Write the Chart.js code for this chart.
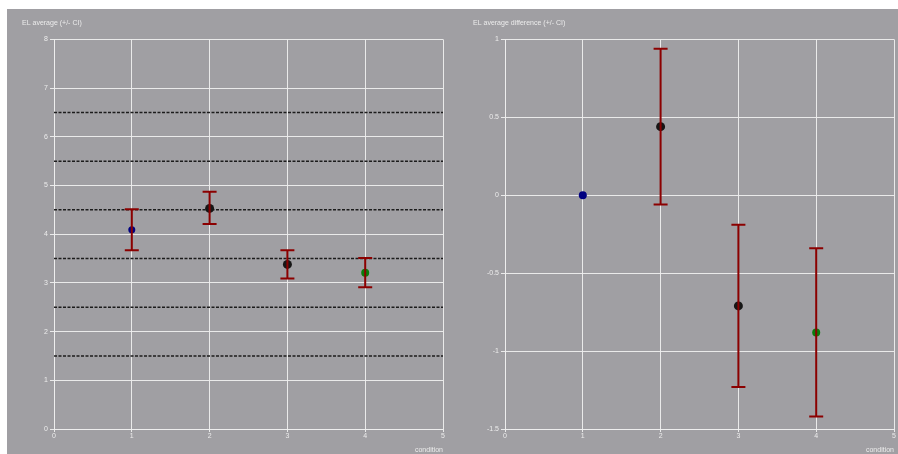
<html lang="en">
<head>
    <meta charset="UTF-8">
    <title>EL average</title>
    <script src="https://cdn.jsdelivr.net/npm/chart.js"></script>
    <style>
        body { margin: 0; background: #ffffff; overflow: hidden; }
        /* grey backdrop behind both panels */
        #backdrop {
            position: absolute;
            left: 7px; top: 9px;
            width: 891px; height: 445px;
            background: rgb(160, 159, 163);
        }
        canvas { position: absolute; top: 9px; }
        #avgChart { left: 7px; }
        #diffChart { left: 452px; }
    </style>
</head>
<body>
    <div id="backdrop"></div>
    <canvas id="avgChart" width="445" height="445"></canvas>
    <canvas id="diffChart" width="446" height="445"></canvas>

    <script>
        // conditions on the x axis
        const conditions = [1, 2, 3, 4];

        // EL average with confidence interval bounds
        const elMean = [4.09, 4.53, 3.38, 3.21];
        const elLow  = [3.67, 4.21, 3.09, 2.91];
        const elHigh = [4.51, 4.87, 3.67, 3.51];

        // EL average difference (vs condition 1) with CI bounds
        const diffMean = [0, 0.44, -0.71, -0.88];
        const diffLow  = [0, -0.06, -1.23, -1.42];
        const diffHigh = [0, 0.94, -0.19, -0.34];

        // dotted reference levels on the average panel
        const refLevels = [1.5, 2.5, 3.5, 4.5, 5.5, 6.5];

        const xTicks = [0, 1, 2, 3, 4, 5];

        const pointColors = ['#000080', '#161616', '#161616', '#0a7d0a'];
        const barColor = '#8b0000';
        const gridColor = 'rgba(238, 238, 238, 0.95)';
        const textColor = '#ececec';
        const font = { family: 'Liberation Sans, Arial, sans-serif', size: 7 };

        // one line dataset per condition: vertical stroke with flat caps at both ends
        function errorBars(low, high) {
            const sets = [];
            conditions.forEach((c, i) => {
                if (low[i] === high[i]) return;
                sets.push({
                    type: 'line',
                    data: [{ x: c, y: low[i] }, { x: c, y: high[i] }],
                    borderColor: barColor,
                    borderWidth: 2,
                    showLine: true,
                    pointStyle: 'line',
                    pointRadius: 7,
                    pointBorderColor: barColor,
                    pointBorderWidth: 2,
                    order: 0
                });
            });
            return sets;
        }

        function meanPoints(mean, radii) {
            return {
                type: 'scatter',
                data: conditions.map((c, i) => ({ x: c, y: mean[i] })),
                pointBackgroundColor: pointColors,
                pointBorderWidth: 0,
                pointRadius: radii,
                order: 1
            };
        }

        function makeChart(id, cfg) {
            const ctx = document.getElementById(id).getContext('2d');
            return new Chart(ctx, {
                type: 'scatter',
                data: { datasets: cfg.datasets },
                options: {
                    responsive: false,
                    animation: false,
                    layout: {
                        autoPadding: false,
                        padding: { left: cfg.padLeft, right: cfg.padRight, top: 0, bottom: 0 }
                    },
                    plugins: {
                        legend: { display: false },
                        tooltip: { enabled: false },
                        title: {
                            display: true,
                            text: cfg.title,
                            align: 'start',
                            color: textColor,
                            font: Object.assign({ weight: 'normal' }, font),
                            padding: { top: 10, bottom: 12 }
                        }
                    },
                    scales: {
                        x: {
                            type: 'linear',
                            min: 0, max: 5,
                            afterBuildTicks: axis => { axis.ticks = xTicks.map(v => ({ value: v })); },
                            afterFit: axis => {
                                axis.height = 25;
                                // edge labels fit inside the layout padding
                                axis.paddingLeft = 0;
                                axis.paddingRight = 0;
                            },
                            grid: { color: gridColor, lineWidth: 1, tickLength: 3, tickColor: gridColor },
                            border: { color: gridColor, width: 1 },
                            ticks: { color: textColor, font: font, padding: 0 },
                            title: {
                                display: true, text: 'condition', align: 'end',
                                color: textColor, font: font, padding: { top: 2, bottom: 0 }
                            }
                        },
                        y: {
                            type: 'linear',
                            min: cfg.yMin, max: cfg.yMax,
                            ticks: {
                                stepSize: cfg.yStep, color: textColor, font: font, padding: 2,
                                callback: value => String(value)
                            },
                            afterFit: axis => { axis.width = cfg.yWidth; },
                            grid: { color: gridColor, lineWidth: 1, tickLength: 4, tickColor: gridColor },
                            border: { color: gridColor, width: 1 }
                        }
                    }
                }
            });
        }

        // dotted horizontal lines across the full x range
        const refLines = refLevels.map(level => ({
            type: 'line',
            data: [{ x: 0, y: level }, { x: 5, y: level }],
            borderColor: '#1c1c1c',
            borderWidth: 1.5,
            borderDash: [3, 1.5],
            pointRadius: 0,
            showLine: true,
            order: 2
        }));

        makeChart('avgChart', {
            title: 'EL average (+/- CI)',
            padLeft: 15, padRight: 9, yWidth: 32,
            yMin: 0, yMax: 8, yStep: 1,
            datasets: errorBars(elLow, elHigh)
                .concat([meanPoints(elMean, [3.5, 4.5, 4.5, 4])])
                .concat(refLines)
        });

        makeChart('diffChart', {
            title: 'EL average difference (+/- CI)',
            padLeft: 21, padRight: 4, yWidth: 32,
            yMin: -1.5, yMax: 1, yStep: 0.5,
            datasets: errorBars(diffLow, diffHigh)
                .concat([meanPoints(diffMean, [4, 4.5, 4.5, 4])])
        });
    </script>
</body>
</html>
